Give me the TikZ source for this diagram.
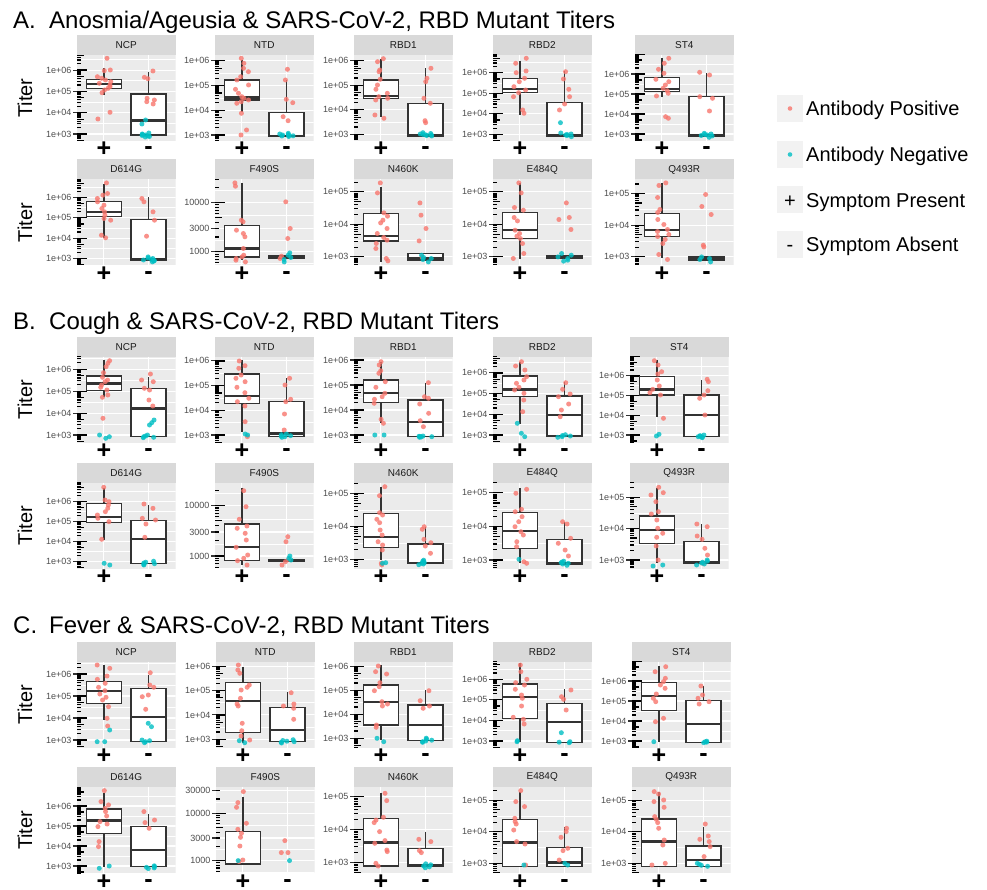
\documentclass[tikz,border=0pt]{standalone}
\usepackage{fontspec}
\setmainfont{Liberation Sans}
\usepackage{tikz}
\definecolor{abpos}{HTML}{F8766D}
\definecolor{abneg}{HTML}{00BFC4}
\definecolor{stripgray}{HTML}{D9D9D9}
\definecolor{panelgray}{HTML}{EBEBEB}
\definecolor{keygray}{HTML}{F2F2F2}
\definecolor{boxgray}{HTML}{333333}
\definecolor{striptext}{HTML}{1A1A1A}
\definecolor{ticktext}{HTML}{4D4D4D}

% axis breaks: decade offset from 1e+03 / label
\newcommand{\labD}{0/1e+03,1/1e+04,2/1e+05,3/1e+06}
\newcommand{\labE}{0/1e+03,1/1e+04,2/1e+05}
\newcommand{\labF}{0/1000,0.477/3000,1/10000}
\newcommand{\labG}{0/1000,0.477/3000,1/10000,1.477/30000}
\newcommand{\minD}{-0.5,0.5,1.5,2.5,3.5}
\newcommand{\minF}{-0.239,0.239,0.739,1.239,1.739}

% one facet: left, plot top, id, strip text, 1e3 position, decade size, breaks, minor breaks
\newcommand{\facet}[8]{%
  \fill[stripgray] (#1,#2-20) rectangle ++(98.5,20);
  \node[striplab] (st-#3) at (#1+49.25,#2-10) {#4};
  \begin{scope}
    \clip (#1,#2) rectangle ++(98.5,86);
    \fill[panelgray] (#1,#2) rectangle ++(98.5,86);
    \foreach \m in #8 {\draw[minorgrid] (#1,{#2+#5-(\m)*#6}) -- ++(98.5,0);}
    \foreach \j/\t in #7 {\draw[majorgrid] (#1,{#2+#5-(\j)*#6}) -- ++(98.5,0);}
    \draw[majorgrid] (#1+26.9,#2) -- ++(0,86);
    \draw[majorgrid] (#1+71.6,#2) -- ++(0,86);
    \foreach \dd in {-1,...,4} {
      \draw[logtick] (#1,{#2+#5-(\dd)*#6}) -- ++(10,0);
      \foreach \lk/\len in {0.301/3.5,0.477/3.5,0.602/3.5,0.699/6.7,0.778/3.5,0.845/3.5,0.903/3.5,0.954/3.5}
        {\draw[logtick] (#1,{#2+#5-(\dd+\lk)*#6}) -- ++(\len,0);}
    }
  \end{scope}
  \foreach \j/\t [count=\i] in #7 {
    \draw[axtick] ({#1-4},{#2+#5-(\j)*#6}) -- ++(4,0);
    \node[ticklab] (yl-#3-\i) at ({#1-5.5},{#2+#5-(\j)*#6}) {\t};
  }
  \node[grplab] (gp-#3) at (#1+26.9,#2+102) {+};
  \node[grplab] (gm-#3) at (#1+71.6,#2+100) {-};
}

% box: left, plot top, group, lower whisker, q1, median, q3, upper whisker
\newcommand{\bx}[8]{%
  \pgfmathsetmacro\cx{#1+26.9+44.7*(#3-1)}
  \draw[boxln] (\cx,#2+#8) -- (\cx,#2+#7);
  \draw[boxln] (\cx,#2+#5) -- (\cx,#2+#4);
  \draw[boxln, fill=white] (\cx-17.5,#2+#7) rectangle (\cx+17.5,#2+#5);
  \draw[medln] (\cx-17.5,#2+#6) -- (\cx+17.5,#2+#6);
}

% jittered points: left, plot top, group, style, values
\newcommand{\pts}[5]{%
  \pgfmathsetmacro\cx{#1+26.9+44.7*(#3-1)}
  \foreach \v in {#5} {\fill[#4] ({\cx+7*rand},{#2+\v}) circle (2.5);}
}

\begin{document}
\begin{tikzpicture}[x=1pt, y=-1pt]
\tikzstyle{striplab} = [font=\fontsize{10}{12}\selectfont, text=striptext, inner sep=0];
\tikzstyle{ticklab} = [anchor=east, font=\fontsize{9}{11}\selectfont, text=ticktext, inner sep=0];
\tikzstyle{grplab} = [anchor=base, font=\fontsize{25}{28}\selectfont\bfseries, inner sep=0];
\tikzstyle{titlefont} = [anchor=base west, font=\fontsize{24}{28}\selectfont, inner sep=0];
\tikzstyle{axtitle} = [rotate=90, font=\fontsize{20}{24}\selectfont, inner sep=0];
\tikzstyle{legtext} = [anchor=base west, font=\fontsize{20}{24}\selectfont, inner sep=0];
\tikzstyle{minorgrid} = [white, line width=0.55];
\tikzstyle{majorgrid} = [white, line width=1.1];
\tikzstyle{logtick} = [black, line width=1.2];
\tikzstyle{axtick} = [boxgray, line width=1.1];
\tikzstyle{boxln} = [boxgray, line width=1.3];
\tikzstyle{medln} = [boxgray, line width=2.4];
\tikzstyle{posdot} = [abpos, fill opacity=0.8];
\tikzstyle{negdot} = [abneg, fill opacity=0.8];
\pgfmathsetseed{12}

\fill[white] (0,0) rectangle (987,890);
\useasboundingbox (0,0) rectangle (987,890);

% section titles
\foreach \l/\t/\yy [count=\i] in {A./{Anosmia/Ageusia \& SARS-CoV-2, RBD Mutant Titers}/28.3,
    B./{Cough \& SARS-CoV-2, RBD Mutant Titers}/329.3,
    C./{Fever \& SARS-CoV-2, RBD Mutant Titers}/633.3}
{
\node[titlefont] (sec\i) at (13,\yy) {\l};
\node[titlefont] (head\i) at (49,\yy) {\t};
}
\foreach \T [count=\i] in {55,179.5,356.7,482.7,661.7,787.3}
  {\node[axtitle] (titer\i) at (25,\T+43) {Titer};}

% A. Anosmia/Ageusia
\facet{77}{55}{a1}{NCP}{79}{21.3}{\labD}{\minD}
\bx{77}{55}{1}{40}{33.3}{29}{24.3}{13.3}
\pts{77}{55}{1}{posdot}{3.3,15,15.7,21.7,23.3,25,26.7,28.3,30,31.7,33.3,35,37.7,57.3,64}
\bx{77}{55}{2}{80}{80}{65.7}{39}{16.7}
\pts{77}{55}{2}{posdot}{16,22.3,23.7,43.3,45,46.7,49}
\pts{77}{55}{2}{negdot}{65,69,78,79,80,80.5,81,81.5,82,79.5}

\facet{215}{55}{a2}{NTD}{80}{24.7}{\labD}{\minD}
\bx{215}{55}{1}{56.7}{45}{42.7}{25}{5}
\pts{215}{55}{1}{posdot}{3.3,8.3,13.3,16.7,21.7,25,30,34.3,38.3,41.7,43.3,45,46.7,48.3,58.3,75,80}
\bx{215}{55}{2}{81.7}{81.7}{81}{57.7}{25}
\pts{215}{55}{2}{posdot}{14.3,25,44.3,47.7,61.7,65.7}
\pts{215}{55}{2}{negdot}{78.3,79,79.5,80,80.5,81,81.5,80.8}

\facet{354}{55}{a3}{RBD1}{79.3}{24.5}{\labD}{\minD}
\bx{354}{55}{1}{62.3}{43.3}{41}{25}{4.3}
\pts{354}{55}{1}{posdot}{3.7,6.7,15,16.7,24.3,30,34.3,38.3,41.7,43.3,45,60,63.3}
\bx{354}{55}{2}{81}{81}{80}{48.3}{13.3}
\pts{354}{55}{2}{posdot}{13.3,23.3,26.7,43.3,48.3,65.7,67.7}
\pts{354}{55}{2}{negdot}{77.7,78.5,79,79.5,80,80.5,81,79.8}

\facet{493}{55}{a4}{RBD2}{79.3}{20.5}{\labD}{\minD}
\bx{493}{55}{1}{60}{37.7}{34.3}{23.7}{6}
\pts{493}{55}{1}{posdot}{3.3,8.3,16,17.7,23.3,26.7,31.7,35,37.7,41.7,55,58.3}
\bx{493}{55}{2}{81}{81}{80}{47.7}{16}
\pts{493}{55}{2}{posdot}{16.7,24,34.3,41.7,49,55}
\pts{493}{55}{2}{negdot}{67.7,78,79,79.5,80,80.5,81.7}

\facet{635}{55}{a5}{ST4}{79}{20}{\labD}{\minD}
\bx{635}{55}{1}{41.7}{36.7}{34.3}{22.3}{3.3}
\pts{635}{55}{1}{posdot}{3.3,8.3,14.3,18.3,24.3,26.7,30,33.3,35.7,38.3,41,61.7,63.3}
\bx{635}{55}{2}{81}{81}{80}{41.7}{18.3}
\pts{635}{55}{2}{posdot}{17.3,20,41.7,43.3,56}
\pts{635}{55}{2}{negdot}{78.3,79,79.5,80,80.5,81,82.3}

\facet{77}{179.5}{a6}{D614G}{79}{20.3}{\labD}{\minD}
\bx{77}{179.5}{1}{59}{37.3}{32.3}{21.7}{5}
\pts{77}{179.5}{1}{posdot}{3.4,14,15.7,19,22.3,25.7,29,32.3,35.7,39,40.7,55.7,58.3}
\bx{77}{179.5}{2}{80.7}{80.7}{79.7}{40}{18}
\pts{77}{179.5}{2}{posdot}{19,22.3,32.3,40.7,56.7}
\pts{77}{179.5}{2}{negdot}{77.4,78.5,79,80,80.5,81,81.5,82.4}

\facet{215}{179.5}{a7}{F490S}{72.4}{49.4}{\labF}{\minF}
\bx{215}{179.5}{1}{80.7}{77.4}{69}{45.7}{3.4}
\pts{215}{179.5}{1}{posdot}{3.4,6.7,40.7,42.3,50.7,54,57.3,69,75.7,77.4,79,80.7,82.4}
\bx{215}{179.5}{2}{78.5}{78.5}{77.5}{76.5}{76.5}
\pts{215}{179.5}{2}{posdot}{22.3,49,59,76.7,79}
\pts{215}{179.5}{2}{negdot}{73.4,75.7,78,80,82.4}

\facet{354}{179.5}{a8}{N460K}{77.4}{32.5}{\labE}{\minD}
\bx{354}{179.5}{1}{82.4}{61.4}{56.7}{34}{7.4}
\pts{354}{179.5}{1}{posdot}{3.4,13.4,33.4,36.7,40.7,43.4,49,54,58,60.7,64,69,79,81.4}
\bx{354}{179.5}{2}{80.7}{80.7}{79}{74}{74}
\pts{354}{179.5}{2}{posdot}{23.4,35.7,49,61.4,77.4}
\pts{354}{179.5}{2}{negdot}{75.7,78,80,82.4,79}

\facet{493}{179.5}{a9}{E484Q}{77.4}{32.5}{\labE}{\minD}
\bx{493}{179.5}{1}{80}{59}{50.7}{32.7}{3.4}
\pts{493}{179.5}{1}{posdot}{3.4,13.4,28,30.7,38,41.4,50.7,54,56.7,59,64,74,79}
\bx{493}{179.5}{2}{79}{79}{78}{76.4}{76.4}
\pts{493}{179.5}{2}{posdot}{23.4,38,40,50}
\pts{493}{179.5}{2}{negdot}{74,75.7,77.4,79,80.7,81.7}

\facet{635}{179.5}{a10}{Q493R}{77.4}{31.7}{\labE}{\minD}
\bx{635}{179.5}{1}{79}{56.7}{50.7}{34}{3.4}
\pts{635}{179.5}{1}{posdot}{3.4,6,18,30,33,40,45,50,52,55,57,60,64,75,80}
\bx{635}{179.5}{2}{80.7}{80.7}{79}{76.7}{76.7}
\pts{635}{179.5}{2}{posdot}{15,27,35,65.7,67.4}
\pts{635}{179.5}{2}{negdot}{77.4,79,80,82.4}

% B. Cough
\facet{77}{356.7}{b1}{NCP}{78.3}{21.9}{\labD}{\minD}
\bx{77}{356.7}{1}{40.6}{34}{26.6}{19.3}{3.3}
\pts{77}{356.7}{1}{posdot}{4,6.6,10,16,20.6,23.3,25,28.3,30.6,33.3,38.3,40.6,61.6}
\pts{77}{356.7}{1}{negdot}{78.3,80,81.6}
\bx{77}{356.7}{2}{80}{80}{51.6}{31.6}{20.6}
\pts{77}{356.7}{2}{posdot}{17.3,23.3,25,31.6,33.3,43.3,49.3}
\pts{77}{356.7}{2}{negdot}{63.3,66,68.3,78.3,79.3,80.6,80,81}

\facet{215}{356.7}{b2}{NTD}{78.3}{24.7}{\labD}{\minD}
\bx{215}{356.7}{1}{75}{46.6}{39}{17.3}{3.3}
\pts{215}{356.7}{1}{posdot}{4.3,9,11.6,18.3,21.6,25,30.6,36,41.6,45,49.3,65,80}
\pts{215}{356.7}{1}{negdot}{77.3,78.3}
\bx{215}{356.7}{2}{80}{80}{76.6}{45}{21.6}
\pts{215}{356.7}{2}{posdot}{21.6,28.3,42.6,45,57.3,73.3}
\pts{215}{356.7}{2}{negdot}{77.3,78,79,79.5,80,80.6}

\facet{354}{356.7}{b3}{RBD1}{78.3}{25}{\labD}{\minD}
\bx{354}{356.7}{1}{66.6}{46}{36}{23.3}{5}
\pts{354}{356.7}{1}{posdot}{5,8.3,14,16.6,25,30.6,36.6,40,42.6,46.6,62.6,66.6}
\pts{354}{356.7}{1}{negdot}{78.3,78.3}
\bx{354}{356.7}{2}{80}{80}{65}{43.3}{26.6}
\pts{354}{356.7}{2}{posdot}{26,40,41.6,47.3,56.6,64,70}
\pts{354}{356.7}{2}{negdot}{79.3,79.6,80,80.3,80.6,79.8}

\facet{493}{356.7}{b4}{RBD2}{78.3}{20.7}{\labD}{\minD}
\bx{493}{356.7}{1}{67.3}{40}{32.6}{19.3}{5}
\pts{493}{356.7}{1}{posdot}{5,9.3,13.3,20,23.3,26.6,30.6,33.3,36.6,43.3,55}
\pts{493}{356.7}{1}{negdot}{66.6,76.6,80}
\bx{493}{356.7}{2}{79.3}{79.3}{58.3}{39.3}{25}
\pts{493}{356.7}{2}{posdot}{26,32.6,37.3,40,47.3,53.3,60}
\pts{493}{356.7}{2}{negdot}{78,78.8,79.3,80,80.6}

\facet{630}{356.7}{b5}{ST4}{78.3}{19.7}{\labD}{\minD}
\bx{630}{356.7}{1}{60.6}{38.3}{32.6}{20}{3.3}
\pts{630}{356.7}{1}{posdot}{4,8.3,15,17.3,23.3,29.3,32.6,36,38.3,61.6}
\pts{630}{356.7}{1}{negdot}{77.6,79.3}
\bx{630}{356.7}{2}{80}{80}{58.3}{38.3}{23.3}
\pts{630}{356.7}{2}{posdot}{22.6,25,34,38.3,41.6,58.3}
\pts{630}{356.7}{2}{negdot}{78.3,79,79.5,80,80.5,81}

\facet{77}{482.7}{b6}{D614G}{79}{20}{\labD}{\minD}
\bx{77}{482.7}{1}{57}{40}{34}{20.6}{5.6}
\pts{77}{482.7}{1}{posdot}{4.6,17.3,19,22.3,25.6,29,32.3,35.6,39,56.6}
\pts{77}{482.7}{1}{negdot}{80.6,82.3}
\bx{77}{482.7}{2}{80.6}{80.6}{56.3}{38}{22.3}
\pts{77}{482.7}{2}{posdot}{21.3,25.6,35.6,37.3,41.3,54.6}
\pts{77}{482.7}{2}{negdot}{78.5,79.5,80.3,81,81.6,82.3}

\facet{215}{482.7}{b7}{F490S}{73.3}{50.3}{\labF}{\minF}
\bx{215}{482.7}{1}{82.3}{78}{64}{41.3}{5}
\pts{215}{482.7}{1}{posdot}{8,24,36.6,43.3,45.6,50.6,57.3,64.6,72.3,75.6,78,82.3}
\bx{215}{482.7}{2}{79}{79}{78}{77}{77}
\pts{215}{482.7}{2}{posdot}{54,59,76.6,79,82.3}
\pts{215}{482.7}{2}{negdot}{73.3,75.6,77.3}

\facet{354}{482.7}{b8}{N460K}{76.6}{33}{\labE}{\minD}
\bx{354}{482.7}{1}{77.3}{64.6}{54}{30.6}{4}
\pts{354}{482.7}{1}{posdot}{4,13,30,32.3,36.6,40,47.3,52.3,59,62.3,67.3,80.6,82.3}
\pts{354}{482.7}{1}{negdot}{80,80.6}
\bx{354}{482.7}{2}{80.6}{80.6}{80}{61.3}{44}
\pts{354}{482.7}{2}{posdot}{44,46.6,56.6,60,63.3,70.6}
\pts{354}{482.7}{2}{negdot}{77.5,78.5,79.3,80,80.6,81.3,82}

\facet{493}{482.7}{b9}{E484Q}{77.3}{33.6}{\labE}{\minD}
\bx{493}{482.7}{1}{80.6}{65.6}{48}{30}{5.6}
\pts{493}{482.7}{1}{posdot}{6.6,10.6,26.6,29,34,39,44,49,52.3,59,64,79,80.6}
\pts{493}{482.7}{1}{negdot}{76.6}
\bx{493}{482.7}{2}{81.3}{81.3}{80.6}{56.6}{39}
\pts{493}{482.7}{2}{posdot}{39,41.3,55.6,60.6,67.3,73.3}
\pts{493}{482.7}{2}{negdot}{78.5,79.3,80,80.6,81.3,82.6}

\facet{630}{482.7}{b10}{Q493R}{77.3}{31.4}{\labE}{\minD}
\bx{630}{482.7}{1}{80.6}{60.6}{47.3}{33.3}{5.6}
\pts{630}{482.7}{1}{posdot}{4.6,10,12.3,19,29,31.3,37.3,45.6,50.6,54.6,63.3,77.3}
\pts{630}{482.7}{1}{negdot}{82.3,83.3}
\bx{630}{482.7}{2}{80.6}{80.6}{79}{59}{41.3}
\pts{630}{482.7}{2}{posdot}{41.3,44,53.3,56.6,65.6,72.3,80.6}
\pts{630}{482.7}{2}{negdot}{77.3,78.5,79.5,80.3,81.3,82.3}

% C. Fever
\facet{77}{661.7}{c1}{NCP}{78.3}{22}{\labD}{\minD}
\bx{77}{661.7}{1}{58.3}{41.6}{29}{20}{3.3}
\pts{77}{661.7}{1}{posdot}{3.3,6.6,14.3,17.6,21.6,25.6,29,32.3,35.6,38.3,45,56.6,64.3}
\pts{77}{661.7}{1}{negdot}{68.3,80,80}
\bx{77}{661.7}{2}{80}{80}{55}{26.6}{13.3}
\pts{77}{661.7}{2}{posdot}{11,23.3,25.6,33.3,35,47.6}
\pts{77}{661.7}{2}{negdot}{61.6,65,78.3,79,80,81}

\facet{216}{661.7}{c2}{NTD}{77.6}{24.4}{\labD}{\minD}
\bx{216}{661.7}{1}{81}{71}{39}{21}{5}
\pts{216}{661.7}{1}{posdot}{3.3,8.3,11.6,23.3,25.6,28.3,36.6,42.3,44.3,61.6,69,74.3,78.3}
\pts{216}{661.7}{1}{negdot}{79,81}
\bx{216}{661.7}{2}{80}{80}{68.3}{46}{30}
\pts{216}{661.7}{2}{posdot}{31,42.3,44.3,46.6,57.6}
\pts{216}{661.7}{2}{negdot}{78,78.8,79.5,80,80.6,81.3}

\facet{354}{661.7}{c3}{RBD1}{76.6}{24}{\labD}{\minD}
\bx{354}{661.7}{1}{78.3}{63.3}{40}{23.3}{3.3}
\pts{354}{661.7}{1}{posdot}{4.3,10,12.3,21,25,29,40,42.3,44.3,63.3,65.6}
\pts{354}{661.7}{1}{negdot}{76.6,80}
\bx{354}{661.7}{2}{79}{79}{63.3}{43.3}{28.3}
\pts{354}{661.7}{2}{posdot}{29,39,44.3,46.6}
\pts{354}{661.7}{2}{negdot}{76.5,77.5,78.5,79.3,80,80.6}

\facet{493}{661.7}{c4}{RBD2}{79.3}{20.6}{\labD}{\minD}
\bx{493}{661.7}{1}{80}{56.6}{35}{22.3}{1.6}
\pts{493}{661.7}{1}{posdot}{3.3,10,17.6,21,23.3,27.6,33.3,36.6,44.3,55.6,57.6,62.3}
\pts{493}{661.7}{1}{negdot}{79,80}
\bx{493}{661.7}{2}{81}{81}{60}{41.6}{27.6}
\pts{493}{661.7}{2}{posdot}{28.3,35,37.6,48.3}
\pts{493}{661.7}{2}{negdot}{71,80,81,80.5}

\facet{632}{661.7}{c5}{ST4}{79.3}{20}{\labD}{\minD}
\bx{632}{661.7}{1}{80}{49}{34.3}{21}{4.3}
\pts{632}{661.7}{1}{posdot}{5,10,16.6,20,23.3,26.6,32.3,36.6,40,56.6,60}
\pts{632}{661.7}{1}{negdot}{80}
\bx{632}{661.7}{2}{81}{81}{62.3}{39}{24.3}
\pts{632}{661.7}{2}{posdot}{24.3,33.3,36.6,40,42.3}
\pts{632}{661.7}{2}{negdot}{79.5,80,80.5,81}

\facet{77}{787.3}{c6}{D614G}{78.7}{20}{\labD}{\minD}
\bx{77}{787.3}{1}{79.3}{46}{33.3}{21.6}{5.3}
\pts{77}{787.3}{1}{posdot}{3.3,14.3,17.6,21,24.3,28.7,34.3,36.7,39.3,54.3,59.3}
\pts{77}{787.3}{1}{negdot}{78.7,81}
\bx{77}{787.3}{2}{79.3}{79.3}{62.7}{39.3}{26.7}
\pts{77}{787.3}{2}{posdot}{24.3,32.7,35.3,41}
\pts{77}{787.3}{2}{negdot}{78.5,79.3,80,80.6,81.3}

\facet{216}{787.3}{c7}{F490S}{73.3}{47.3}{\labG}{\minF}
\bx{216}{787.3}{1}{76.7}{76.7}{76.7}{44.3}{9.3}
\pts{216}{787.3}{1}{posdot}{4.3,15.3,20,36,42,46,50,58.7,72.7,74.3}
\pts{216}{787.3}{1}{negdot}{73.3}
\pts{216}{787.3}{2}{posdot}{53.3,65.3,65.3}
\pts{216}{787.3}{2}{negdot}{73.3}

\facet{354}{787.3}{c8}{N460K}{75.3}{33}{\labE}{\minD}
\bx{354}{787.3}{1}{78.7}{78.7}{55}{31}{5.3}
\pts{354}{787.3}{1}{posdot}{6,13.3,30,32.7,35.3,44.3,53.3,56,62.7,64.3,76,78.7}
\bx{354}{787.3}{2}{78.7}{78.7}{77.7}{61}{44.3}
\pts{354}{787.3}{2}{posdot}{52,54.3,63.3,65.3}
\pts{354}{787.3}{2}{negdot}{76.5,77.5,78.7,79.5,80.5}

\facet{493}{787.3}{c9}{E484Q}{76}{31.6}{\labE}{\minD}
\bx{493}{787.3}{1}{79.3}{79.3}{55.3}{32}{4.3}
\pts{493}{787.3}{1}{posdot}{3.3,14.3,19.3,31,34.3,36.7,42.7,54.3,56.7,77.7}
\pts{493}{787.3}{1}{negdot}{77.7}
\bx{493}{787.3}{2}{79.3}{79.3}{75.3}{60}{40}
\pts{493}{787.3}{2}{posdot}{41,44.3,50,61,63.3,72.7}
\pts{493}{787.3}{2}{negdot}{76,77.7}

\facet{632}{787.3}{c10}{Q493R}{76}{31.6}{\labE}{\minD}
\bx{632}{787.3}{1}{79.3}{79.3}{54.3}{31.7}{4.3}
\pts{632}{787.3}{1}{posdot}{4.3,6.7,12.7,14.3,20,29.3,32,35.3,41,52.7,57.7,76,77.7}
\bx{632}{787.3}{2}{79.3}{79.3}{72.7}{58.7}{39.3}
\pts{632}{787.3}{2}{posdot}{36.7,48.7,52,54.3,59.3,69.3}
\pts{632}{787.3}{2}{negdot}{76,77,78,79}

% legend
\foreach \t/\yy [count=\i] in {Antibody Positive/108.5, Antibody Negative/154.5, Symptom Present/200, Symptom Absent/244.5}
{
\fill[keygray] (777,\yy-13.5) rectangle (803,\yy+13.5);
\node[legtext] (leg\i) at (806,\yy+7.2) {\t};
}
\fill[posdot] (790,108.5) circle (2.3);
\fill[negdot] (790,154.5) circle (2.3);
\node[legtext, anchor=base] (keyp) at (790,207.2) {+};
\node[legtext, anchor=base] (keym) at (790,251.7) {-};
\end{tikzpicture}
\end{document}
